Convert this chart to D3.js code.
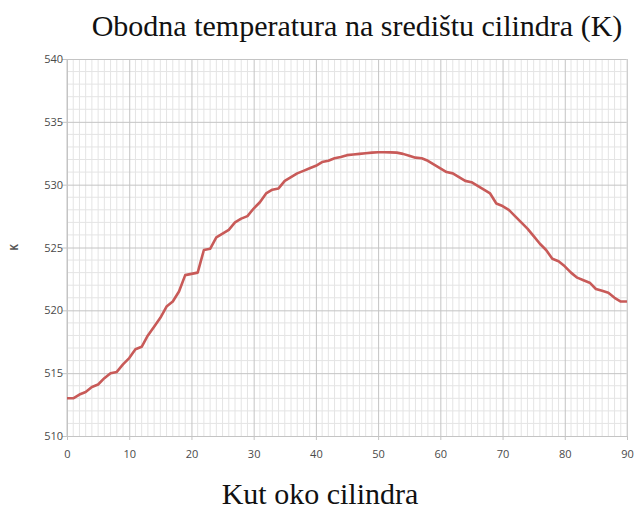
<!DOCTYPE html>
<html>
<head>
<meta charset="utf-8">
<script src="https://cdn.jsdelivr.net/npm/d3@7"></script>
<style>
  body { margin: 0; background: #fff; }
  .tick text { font-family: "Open Sans", sans-serif; font-size: 11px; fill: #4a4a4a; }
</style>
</head>
<body>
<svg id="chart" width="636" height="510"></svg>
<script>
// kut (stupnjevi) i temperatura (K), ocitano sa slike
var angles = d3.range(0, 91);
var temps = [
  513.0, 513.0, 513.3, 513.5, 513.9, 514.1, 514.6, 515.0, 515.1, 515.7,
  516.2, 516.9, 517.1, 518.0, 518.7, 519.4, 520.3, 520.7, 521.5, 522.8,
  522.9, 523.0, 524.8, 524.9, 525.8, 526.1, 526.4, 527.0, 527.3, 527.5,
  528.1, 528.6, 529.3, 529.6, 529.7, 530.3, 530.6, 530.9, 531.1, 531.3,
  531.5, 531.8, 531.9, 532.1, 532.2, 532.35, 532.4, 532.45, 532.5, 532.55,
  532.58, 532.58, 532.57, 532.55, 532.45, 532.3, 532.15, 532.1, 531.9, 531.6,
  531.3, 531.0, 530.9, 530.6, 530.3, 530.2, 529.9, 529.6, 529.3, 528.5,
  528.3, 528.0, 527.5, 527.0, 526.5, 525.9, 525.3, 524.8, 524.1, 523.9,
  523.5, 523.0, 522.6, 522.4, 522.2, 521.7, 521.55, 521.4, 521.0, 520.7,
  520.7
];
var xTicks = [0, 10, 20, 30, 40, 50, 60, 70, 80, 90];
var yTicks = [510, 515, 520, 525, 530, 535, 540];

var svg = d3.select("#chart"),
    margin = {top: 59, right: 9, bottom: 74, left: 67},
    width = 636 - margin.left - margin.right,
    height = 510 - margin.top - margin.bottom;

var x = d3.scaleLinear().domain([0, 90]).range([0, width]);
var y = d3.scaleLinear().domain([510, 540]).range([height, 0]);

var g = svg.append("g")
  .attr("transform", "translate(" + margin.left + "," + margin.top + ")");

// sitna mreza
g.append("g").selectAll("line")
  .data(d3.range(1, 90).filter(function(d) { return d % 10 != 0; }))
  .enter().append("line")
    .attr("x1", d => x(d)).attr("x2", d => x(d))
    .attr("y1", 0).attr("y2", height)
    .attr("stroke", "#e4e4e4").attr("stroke-width", 1);

g.append("g").selectAll("line")
  .data(d3.range(511, 540).filter(function(d) { return d % 5 != 0; }))
  .enter().append("line")
    .attr("x1", 0).attr("x2", width)
    .attr("y1", d => y(d)).attr("y2", d => y(d))
    .attr("stroke", "#e4e4e4").attr("stroke-width", 1);

// glavna mreza i osi
var xAxis = g.append("g")
  .attr("transform", "translate(0," + height + ")")
  .call(d3.axisBottom(x).tickValues(xTicks).tickSize(-height - 4).tickPadding(14));
xAxis.select(".domain").remove();
xAxis.selectAll(".tick line").attr("stroke", "#c4c4c4").attr("transform", "translate(0,4)");

var yAxis = g.append("g")
  .call(d3.axisLeft(y).tickValues(yTicks).tickSize(-width - 5).tickPadding(4));
yAxis.select(".domain").remove();
yAxis.selectAll(".tick line").attr("stroke", "#c4c4c4").attr("transform", "translate(-5,0)");

g.append("line")
  .attr("x1", 0).attr("x2", 0).attr("y1", 0).attr("y2", height)
  .attr("stroke", "#c4c4c4");
g.append("line")
  .attr("x1", width).attr("x2", width).attr("y1", 0).attr("y2", height)
  .attr("stroke", "#d8d8d8");

// krivulja
var line = d3.line()
  .x(function(d, i) { return x(angles[i]); })
  .y(function(d) { return y(d); });

g.append("path")
  .datum(temps)
  .attr("fill", "none")
  .attr("stroke", "#c85a58")
  .attr("stroke-width", 2.6)
  .attr("stroke-linejoin", "round")
  .attr("d", line);

// natpisi
svg.append("text")
  .attr("x", 357).attr("y", 36)
  .attr("text-anchor", "middle")
  .style("font-family", "'Liberation Serif', 'Times New Roman', serif")
  .style("font-size", "30px")
  .style("fill", "#111")
  .text("Obodna temperatura na središtu cilindra (K)");

svg.append("text")
  .attr("x", 320).attr("y", 504)
  .attr("text-anchor", "middle")
  .style("font-family", "'Liberation Serif', 'Times New Roman', serif")
  .style("font-size", "30px")
  .style("fill", "#111")
  .text("Kut oko cilindra");

svg.append("text")
  .attr("transform", "translate(18," + (margin.top + height / 2) + ") rotate(-90)")
  .attr("text-anchor", "middle")
  .style("font-family", "'Open Sans', sans-serif")
  .style("font-size", "10px")
  .style("font-weight", "bold")
  .style("fill", "#555")
  .text("K");
</script>
</body>
</html>
